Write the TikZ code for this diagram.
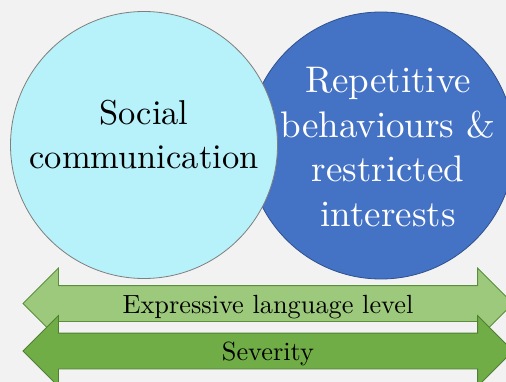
\documentclass[tikz,border=0pt]{standalone}
\usepackage{fontspec}
\setmainfont{lmroman10-regular}[Extension=.otf]
\usetikzlibrary{shapes.arrows}
\definecolor{pagebg}{HTML}{F2F2F2}
\definecolor{socialfill}{HTML}{B7F1F9}
\definecolor{socialline}{HTML}{7F7F7F}
\definecolor{rrbfill}{HTML}{4472C4}
\definecolor{rrbline}{HTML}{2F528F}
\definecolor{langfill}{HTML}{9DC97C}
\definecolor{langline}{HTML}{5A8F3A}
\definecolor{sevfill}{HTML}{70AD47}
\definecolor{sevline}{HTML}{507E32}

\begin{document}
\begin{tikzpicture}[x=1pt, y=-1pt,
	bigcircle/.style={circle, minimum size=267pt, inner sep=0pt, line width=0.8pt},
	bigtext/.style={align=center, inner sep=0pt, font=\fontsize{34.5}{44}\selectfont},
	scalearrow/.style={double arrow, double arrow head extend=17.5pt, minimum height=490pt,
		inner ysep=0pt, text height=27pt, text depth=8pt, line width=0.8pt,
		font=\fontsize{26.3}{30}\selectfont}]
		%%%%% START %%%%%
		
		\fill[pagebg] (0, 0) rectangle (506, 382);
		\useasboundingbox (0, 0) rectangle (506, 382);
		
		% the two domains, left one on top
		\node[bigcircle, draw=rrbline, fill=rrbfill] (rrb) at (381, 145.5) {};
		\node[bigcircle, draw=socialline, fill=socialfill] (social) at (144, 145) {};
		
		\node[bigtext] (socialtext) at (144, 135) {Social\\communication};
		\node[bigtext, text=white, font=\fontsize{37}{44.5}\selectfont] (rrbtext) at (388, 147)
			{Repetitive\\behaviours \&\\restricted\\interests};
		
		% the two scales underneath
		\node[scalearrow, draw=langline, fill=langfill] (lang) at (268, 303.5) {Expressive language level};
		\node[scalearrow, draw=sevline, fill=sevfill] (sev) at (268, 351) {Severity};
		
		%%%%% END %%%%%
	\end{tikzpicture}
\end{document}
